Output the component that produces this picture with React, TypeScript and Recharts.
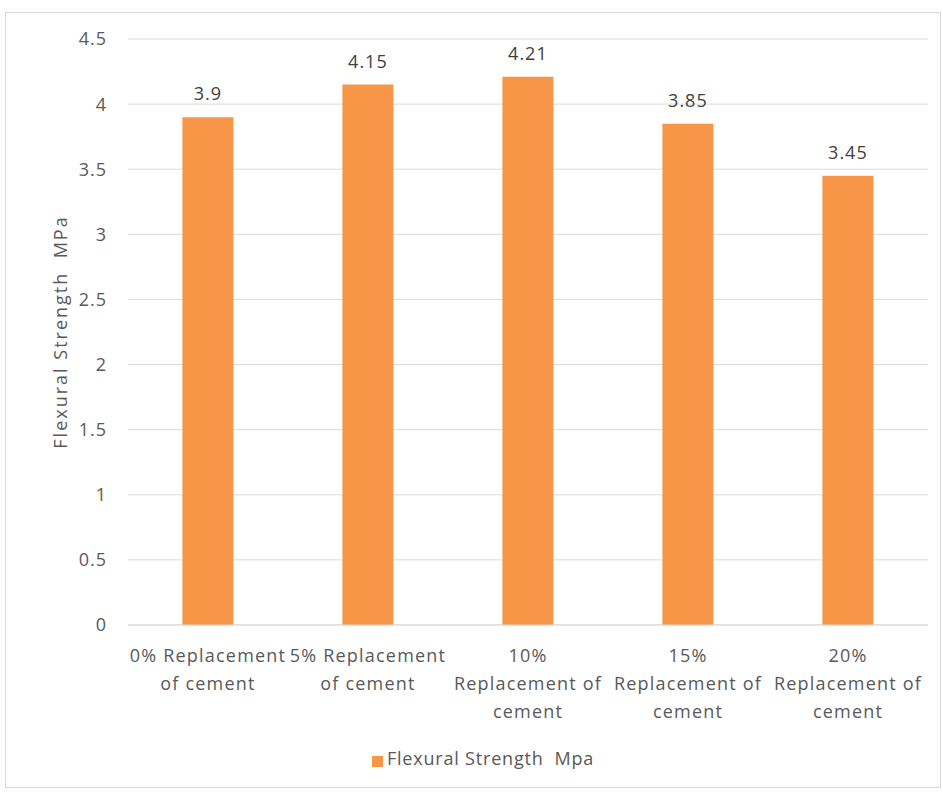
import { BarChart, Bar, XAxis, YAxis, CartesianGrid, Legend, LabelList } from 'recharts';

const categories = [
  '0% Replacement\nof cement',
  '5% Replacement\nof cement',
  '10%\nReplacement of\ncement',
  '15%\nReplacement of\ncement',
  '20%\nReplacement of\ncement',
];
const strength = [3.9, 4.15, 4.21, 3.85, 3.45];
const yTicks = [0, 0.5, 1, 1.5, 2, 2.5, 3, 3.5, 4, 4.5];

const data = categories.map((c, i) => ({ name: c, value: strength[i] }));

const FONT = '"Open Sans", Lato, sans-serif';
const TEXT = '#595959';
const FS = 18;

function CategoryTick({ x, y, payload }: any) {
  const lines = String(payload.value).split('\n');
  return (
    <text x={x} y={y} textAnchor="middle" fill={TEXT} fontSize={FS} fontFamily={FONT} letterSpacing={1.2}>
      {lines.map((l, i) => (
        <tspan key={i} x={x} dy={i === 0 ? 29 : 28}>{l}</tspan>
      ))}
    </text>
  );
}

export default function App() {
  return (
    <div style={{ position: 'absolute', left: 0, top: 0, width: 943, height: 792, background: '#fff' }}>
      <div style={{ position: 'absolute', left: 5, top: 12, width: 934, height: 774, border: '1px solid #D9D9D9' }} />
      <BarChart width={943} height={792} data={data}
        margin={{ top: 39, right: 15, left: 0, bottom: 22 }} barCategoryGap="34%">
        <CartesianGrid vertical={false} stroke="#D9D9D9" />
        <XAxis dataKey="name" axisLine={{ stroke: '#D9D9D9' }} tickLine={false} height={121}
          interval={0} tick={<CategoryTick />} />
        <YAxis domain={[0, 4.5]} ticks={yTicks} width={128} axisLine={false} tickLine={false}
          tickSize={0} tickMargin={21} tick={{ fill: TEXT, fontSize: FS, fontFamily: FONT, letterSpacing: 1 }}
          label={{
            content: () => (
              <text x={60} y={332} transform="rotate(-90 60 332)" textAnchor="middle"
                fill={TEXT} fontSize={FS} fontFamily={FONT} dominantBaseline="central"
                letterSpacing={2} style={{ whiteSpace: 'pre' }}>
                Flexural Strength  MPa
              </text>
            ),
          }} />
        <Legend verticalAlign="bottom" iconType="square" iconSize={11} wrapperStyle={{ left: 24 }}
          formatter={(v) => <span style={{ color: TEXT, fontSize: FS, fontFamily: FONT, whiteSpace: 'pre', letterSpacing: 0.8 }}>{v}</span>} />
        <Bar dataKey="value" name="Flexural Strength  Mpa" fill="#F79646" isAnimationActive={false}>
          <LabelList dataKey="value" position="top" offset={17} fill="#404040" fontSize={FS} fontFamily={FONT} letterSpacing={1} />
        </Bar>
      </BarChart>
    </div>
  );
}
